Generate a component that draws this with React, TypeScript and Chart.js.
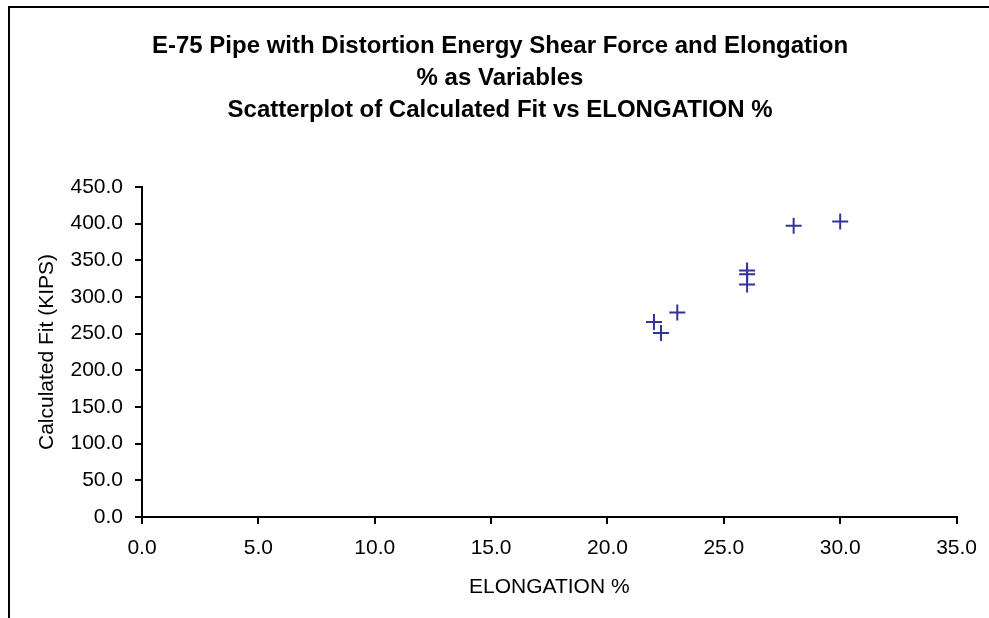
import React, { useEffect, useRef } from "react";
import { Chart, registerables } from "chart.js";

Chart.register(...registerables);

const titleLines = [
  "E-75 Pipe with Distortion Energy Shear Force and Elongation",
  "% as Variables",
  "Scatterplot of Calculated Fit vs ELONGATION %",
];
const xTitle = "ELONGATION %";
const yTitle = "Calculated Fit (KIPS)";

const elongation = [22, 22.3, 23, 26, 26, 26, 28, 30];
const calculatedFit = [266, 251, 279, 336, 331, 317, 397, 403];

const xMin = 0, xMax = 35, xStep = 5;
const yMin = 0, yMax = 450, yStep = 50;

const FONT = "'Liberation Sans', Arial, Helvetica, sans-serif";

const borderPlugin = {
  id: "outerBorder",
  beforeDraw(chart: any) {
    const ctx = chart.ctx;
    ctx.save();
    ctx.fillStyle = "#ffffff";
    ctx.fillRect(0, 0, chart.width, chart.height);
    ctx.strokeStyle = "#000000";
    ctx.lineWidth = 2;
    ctx.beginPath();
    ctx.moveTo(9, chart.height);
    ctx.lineTo(9, 7);
    ctx.lineTo(chart.width, 7);
    ctx.stroke();
    ctx.restore();
  },
};

export default function App() {
  const ref = useRef<HTMLCanvasElement | null>(null);

  useEffect(() => {
    if (!ref.current) return;
    const points = elongation.map((x, i) => ({ x, y: calculatedFit[i] }));
    const chart = new Chart(ref.current, {
      type: "scatter",
      data: {
        datasets: [
          {
            label: "Calculated Fit",
            data: points,
            pointStyle: "cross",
            pointRadius: 8,
            pointBorderWidth: 2,
            borderColor: "#333399",
            backgroundColor: "#333399",
            pointHoverRadius: 8,
          },
        ],
      },
      options: {
        responsive: false,
        animation: false,
        layout: { padding: { top: 0, right: 32, bottom: 0, left: 43 } },
        plugins: {
          legend: { display: false },
          tooltip: { enabled: false },
          title: {
            display: true,
            text: titleLines,
            color: "#000000",
            font: { family: FONT, size: 24, weight: "bold", lineHeight: 1.333 },
            padding: { top: 30, bottom: 61 },
          },
        },
        scales: {
          x: {
            type: "linear",
            min: xMin,
            max: xMax,
            afterFit: (s: any) => {
              s.height = 101;
            },
            ticks: {
              stepSize: xStep,
              color: "#000000",
              padding: 12,
              maxRotation: 0,
              font: { family: FONT, size: 21 },
              callback: (v: any) => Number(v).toFixed(1),
            },
            grid: {
              drawOnChartArea: false,
              drawTicks: true,
              tickLength: 7,
              color: "#000000",
              lineWidth: 2,
            },
            border: { display: true, color: "#000000", width: 2 },
            title: {
              display: true,
              text: xTitle,
              color: "#000000",
              font: { family: FONT, size: 21, lineHeight: 1.2 },
              padding: { top: 0, bottom: 18 },
            },
          },
          y: {
            type: "linear",
            min: yMin,
            max: yMax,
            afterFit: (s: any) => {
              s.width = 99;
            },
            ticks: {
              stepSize: yStep,
              color: "#000000",
              padding: 12,
              font: { family: FONT, size: 21 },
              callback: (v: any) => Number(v).toFixed(1),
            },
            grid: {
              drawOnChartArea: false,
              drawTicks: true,
              tickLength: 7,
              color: "#000000",
              lineWidth: 2,
            },
            border: { display: true, color: "#000000", width: 2 },
            title: {
              display: true,
              text: yTitle,
              color: "#000000",
              font: { family: FONT, size: 21, lineHeight: 1.2 },
              padding: { top: -8.6, bottom: 0 },
            },
          },
        },
      },
      plugins: [borderPlugin],
    });
    return () => chart.destroy();
  }, []);

  return (
    <canvas
      ref={ref}
      width={989}
      height={618}
      style={{ position: "absolute", left: 0, top: 0, display: "block" }}
    />
  );
}
